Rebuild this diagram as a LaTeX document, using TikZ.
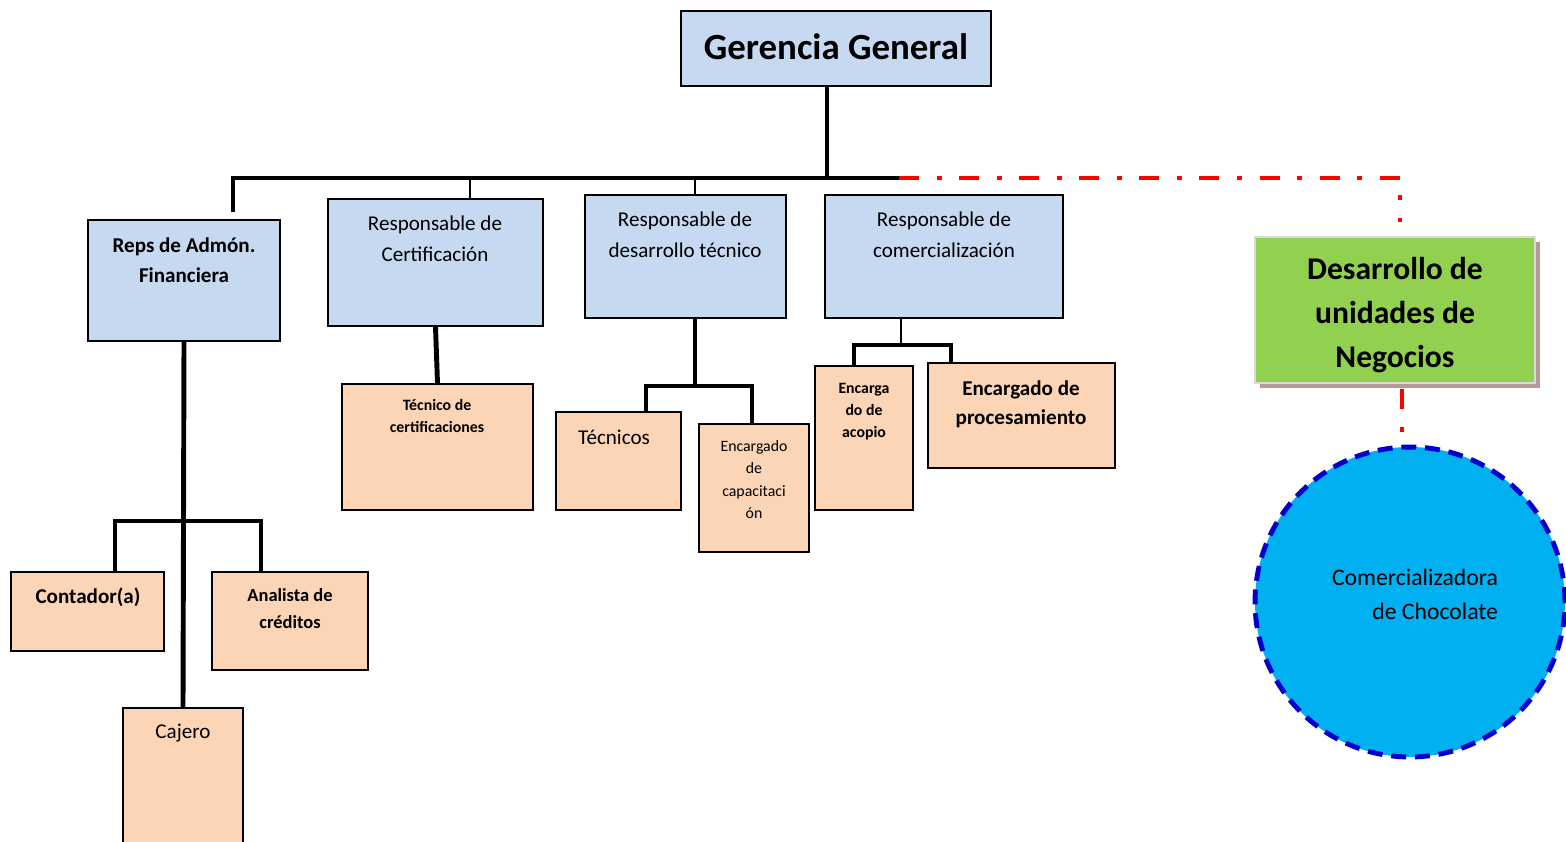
\documentclass[tikz,border=0pt]{standalone}
\usepackage{fontspec}
\setmainfont{Carlito}
\usetikzlibrary{shadows}

\definecolor{jefe}{RGB}{198,217,241}
\definecolor{staff}{RGB}{251,213,181}
\definecolor{negocio}{RGB}{146,208,80}
\definecolor{sombra}{RGB}{183,151,151}
\definecolor{cielo}{RGB}{0,176,240}
\definecolor{borde}{RGB}{0,0,204}

\tikzset{
  bluebox/.style={draw, fill=jefe, line width=1.1pt, inner sep=0pt},
  peachbox/.style={draw, fill=staff, line width=1.1pt, inner sep=0pt},
  tag/.style={align=center, inner sep=0pt},
  thickln/.style={line width=2.8pt, line join=miter},
  thinln/.style={line width=1.1pt},
  redln/.style={red, line width=2.6pt, dash pattern=on 11.4pt off 10pt on 2.8pt off 10pt}
}

\begin{document}
\begin{tikzpicture}[x=0.02cm, y=-0.02cm]
    \useasboundingbox (0,0) rectangle (1566,842);

    \node[bluebox, minimum width=6.2cm, minimum height=1.5cm] (gg) at (836,48.5) {};
    \node[tag, font=\fontsize{21}{25}\selectfont\bfseries] (gg-t) at (836,47) {Gerencia General};

    \node[bluebox, minimum width=3.84cm, minimum height=2.42cm] (reps) at (184,280.5) {};
    \node[bluebox, minimum width=4.3cm, minimum height=2.54cm] (cert) at (435.5,262.5) {};
    \node[bluebox, minimum width=4.02cm, minimum height=2.46cm] (dtec) at (685.5,256.5) {};
    \node[bluebox, minimum width=4.76cm, minimum height=2.46cm] (comer) at (944,256.5) {};

    \node[tag, font=\fontsize{12}{17}\selectfont\bfseries] (reps-t) at (184,260) {Reps de Admón.\\Financiera};
    \node[tag, font=\fontsize{12}{17.6}\selectfont] (cert-t) at (435,238.5) {Responsable de\\Certificación};
    \node[tag, font=\fontsize{12}{17.6}\selectfont] (dtec-t) at (685,234.5) {Responsable de\\desarrollo técnico};
    \node[tag, font=\fontsize{12}{17.6}\selectfont] (comer-t) at (944,234.5) {Responsable de\\comercialización};

    \node[draw=white!85!black, fill=negocio, line width=1.5pt, minimum width=5.6cm, minimum height=2.92cm,
      drop shadow={fill=sombra, opacity=1, shadow xshift=2.8pt, shadow yshift=-2.8pt}] (neg) at (1395,310) {};
    \node[tag, font=\fontsize{18}{25}\selectfont\bfseries] (neg-t) at (1395,315.5) {Desarrollo de\\unidades de\\Negocios};

    \node[circle, minimum size=6.2cm, inner sep=0pt, fill=cielo, draw=borde, line width=2.8pt,
      dash pattern=on 8.5pt off 5pt] (circ) at (1410,602) {};
    \node[align=right, inner sep=0pt, font=\fontsize{13.5}{19.4}\selectfont] (circ-t) at (1415,594) {Comercializadora\\de Chocolate};

    \node[peachbox, minimum width=3.82cm, minimum height=2.52cm] (tcert) at (437.5,447) {};
    \node[peachbox, minimum width=2.5cm, minimum height=1.96cm] (tecn) at (618.5,461) {};
    \node[peachbox, minimum width=2.2cm, minimum height=2.56cm] (capac) at (754,488) {};
    \node[peachbox, minimum width=1.96cm, minimum height=2.88cm] (acop) at (864,438) {};
    \node[peachbox, minimum width=3.74cm, minimum height=2.1cm] (proc) at (1021.5,415.5) {};
    \node[peachbox, minimum width=3.06cm, minimum height=1.58cm] (cont) at (87.5,611.5) {};
    \node[peachbox, minimum width=3.12cm, minimum height=1.96cm] (anal) at (290,621) {};
    \node[peachbox, minimum width=2.4cm, minimum height=2.76cm] (caje) at (183,777) {};

    \node[tag, font=\fontsize{9}{12.5}\selectfont\bfseries] (tcert-t) at (437,416) {Técnico de\\certificaciones};
    \node[tag, font=\fontsize{12}{15}\selectfont] (tecn-t) at (614,437) {Técnicos};
    \node[tag, font=\fontsize{9}{12.8}\selectfont] (capac-t) at (754,479.5) {Encargado\\de\\capacitaci\\ón};
    \node[tag, font=\fontsize{9}{12.5}\selectfont\bfseries] (acop-t) at (864,411.5) {Encarga\\do de\\acopio};
    \node[tag, font=\fontsize{12}{16.5}\selectfont\bfseries] (proc-t) at (1021,404.5) {Encargado de\\procesamiento};
    \node[tag, font=\fontsize{12}{15}\selectfont\bfseries] (cont-t) at (88,597.5) {Contador(a)};
    \node[tag, font=\fontsize{10.5}{15.4}\selectfont\bfseries] (anal-t) at (290,608.5) {Analista de\\créditos};
    \node[tag, font=\fontsize{12}{15}\selectfont] (caje-t) at (183,733) {Cajero};

    \coordinate (busL) at (233,178);
    \coordinate (busM) at (827,178);
    \coordinate (busR) at (899,178);
    \coordinate (repsUp) at (233,212);
    \coordinate (b1) at (470,178);
    \coordinate (b2) at (695,178);
    \coordinate (rc) at (1400,178);
    \coordinate (ru) at (1400,222);
    \coordinate (rv) at (1402,389);
    \coordinate (rd) at (1402,432);
    \coordinate (fa) at (115,521);
    \coordinate (fb) at (261,521);
    \coordinate (dm) at (695,386);
    \coordinate (da) at (646,386);
    \coordinate (db) at (752,386);
    \coordinate (cm) at (901,345);
    \coordinate (ca) at (854,345);
    \coordinate (cb) at (951,345);

    \draw[thickln] (busM |- gg.south) -- (busM);
    \draw[thickln] (repsUp) -- (busL) -- (busR);
    \draw[thinln] (b1) -- (cert.north -| b1);
    \draw[thinln] (b2) -- (dtec.north -| b2);
    \draw[redln] (busR) -- (rc) -- (ru);
    \draw[redln] (rv) -- (rd);

    \draw[thickln] (reps.south) -- (caje.north);
    \draw[thickln] (cont.north -| fa) -- (fa) -- (fb) -- (anal.north -| fb);

    \draw[thickln] (cert.south) -- (tcert.north);

    \draw[thickln] (dtec.south -| dm) -- (dm);
    \draw[thickln] (tecn.north -| da) -- (da) -- (db) -- (capac.north -| db);

    \draw[thinln] (comer.south -| cm) -- (cm);
    \draw[thickln] (acop.north -| ca) -- (ca) -- (cb) -- (proc.north -| cb);
\end{tikzpicture}
\end{document}
